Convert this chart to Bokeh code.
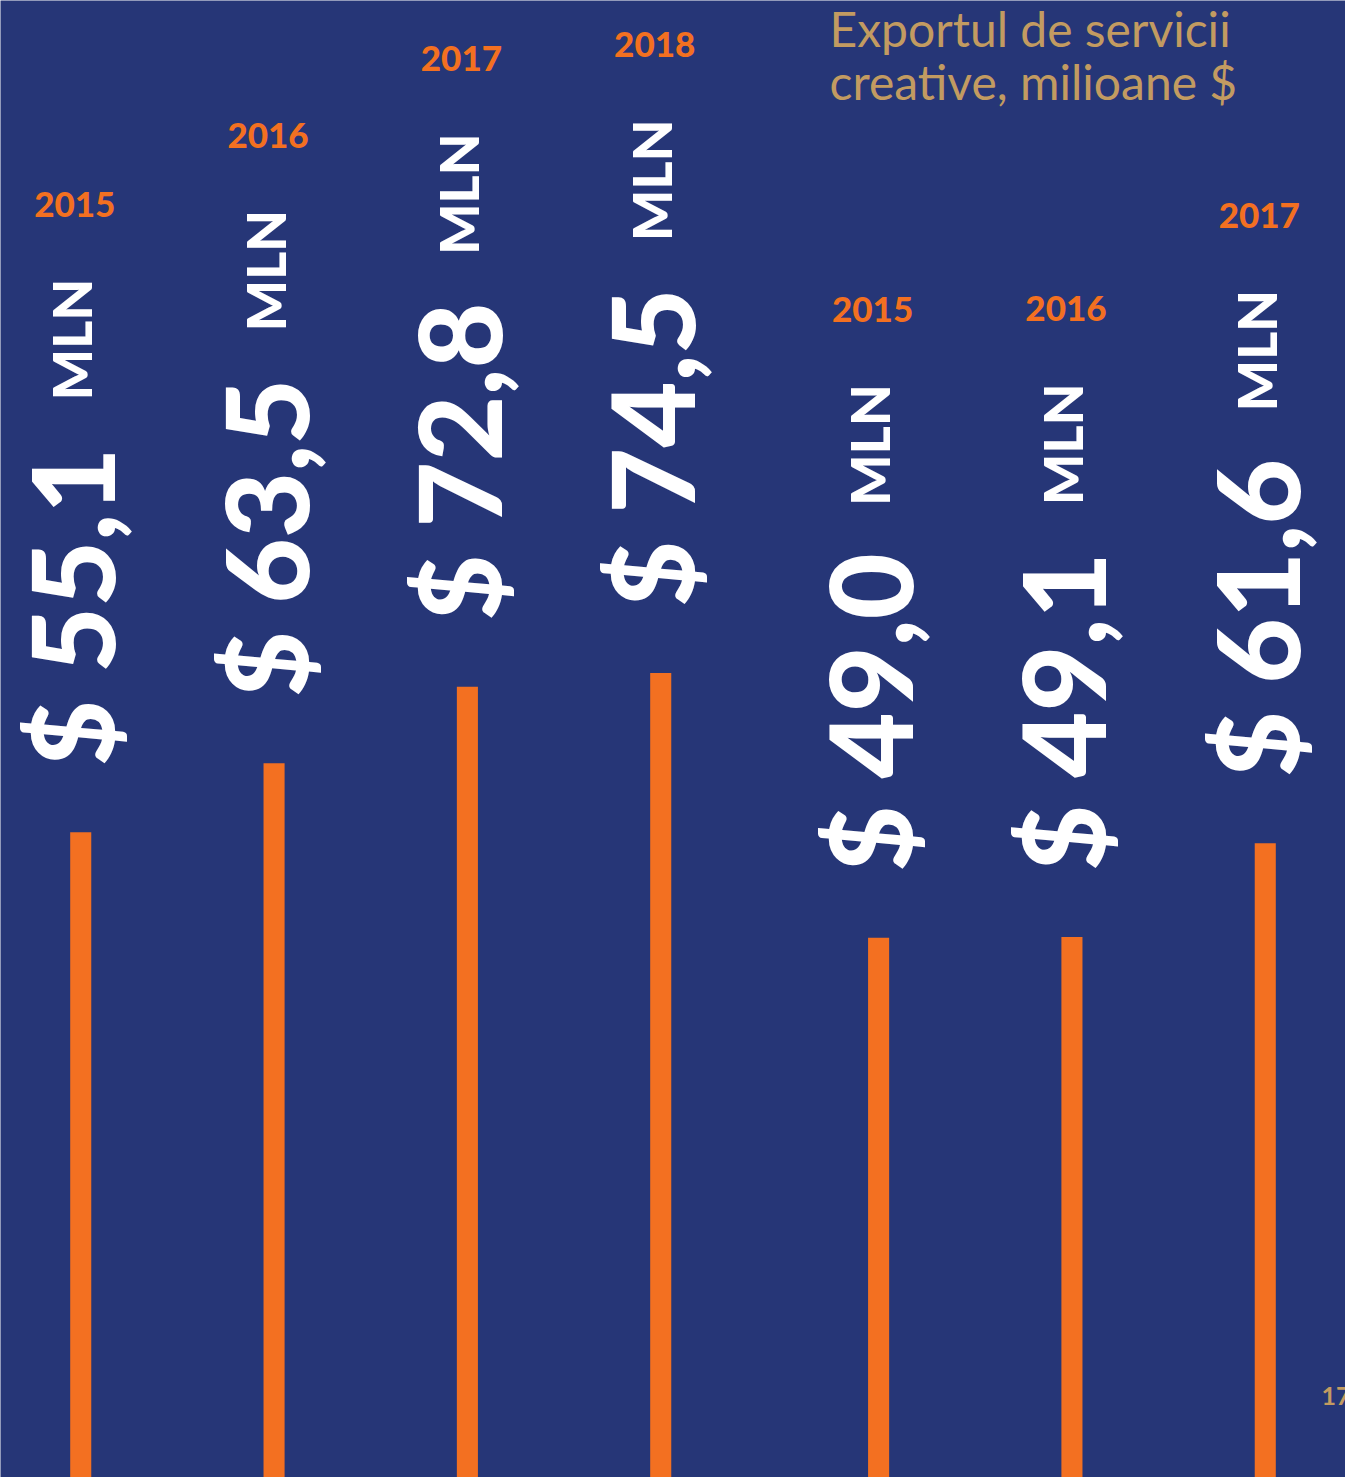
import math
from bokeh.plotting import figure
from bokeh.models import FactorRange, Range1d, ColumnDataSource, Label
from bokeh.embed import file_html
from bokeh.resources import INLINE
from bokeh.core.properties import value

# ---- data ----
group_a_years = ["2015", "2016", "2017", "2018"]
group_a_values = [55.1, 63.5, 72.8, 74.5]
group_b_years = ["2015", "2016", "2017"]
group_b_values = [49.0, 49.1, 61.6]
title_lines = ["Exportul de servicii", "creative, milioane $"]
unit_label = "MLN"
page_number = "17"

BG = "#263677"
ORANGE = "#F37021"
GOLD = "#C29B61"
WHITE = "#FFFFFF"
HEAVY = "'Lato Black', 'Lato Heavy', Lato"


def fmt(v):
    return ("$ %.1f" % v).replace(".", ",")


factors_a = [("A", y) for y in group_a_years]
factors_b = [("B", y) for y in group_b_years]

src_a = ColumnDataSource(dict(x=factors_a, v=group_a_values,
                              label=[fmt(v) for v in group_a_values],
                              unit=[unit_label] * len(group_a_values),
                              year=group_a_years))
src_b = ColumnDataSource(dict(x=factors_b, v=group_b_values,
                              label=[fmt(v) for v in group_b_values],
                              unit=[unit_label] * len(group_b_values),
                              year=group_b_years))

x_range = FactorRange(*(factors_a + factors_b), factor_padding=0.0,
                      group_padding=0.127, range_padding=-0.085,
                      range_padding_units="absolute")

p = figure(width=1345, height=1477, x_range=x_range,
           y_range=Range1d(-23.5, 156.4),
           output_backend="svg", toolbar_location=None,
           x_axis_location=None, y_axis_location=None,
           min_border=0, background_fill_color=BG, border_fill_color=BG,
           outline_line_color=None)
p.extra_y_ranges = {"b": Range1d(-23.0, 174.0)}
p.grid.visible = False

for src, rng in ((src_a, "default"), (src_b, "b")):
    p.vbar(x="x", top="v", bottom=-60, width=0.109, source=src,
           fill_color=ORANGE, line_color=None, y_range_name=rng)
    p.text(x="x", y="v", text="label", source=src, y_range_name=rng,
           angle=math.pi / 2, text_align="left", text_baseline="middle",
           x_offset=-10, y_offset=-66,
           text_font=value(HEAVY), text_font_style="normal",
           text_font_size="114px", text_color=WHITE)
    p.text(x="x", y="v", text="unit", source=src, y_range_name=rng,
           angle=math.pi / 2, text_align="left", text_baseline="middle",
           x_offset=-9, y_offset=-432,
           text_font=value(HEAVY), text_font_style="normal",
           text_font_size="54px", text_color=WHITE)
    p.text(x="x", y="v", text="year", source=src, y_range_name=rng,
           text_align="center", text_baseline="middle",
           x_offset=-6, y_offset=-628,
           text_font=value(HEAVY), text_font_style="normal",
           text_font_size="35px", text_color=ORANGE)

p.add_layout(Label(x=829, y=1449, x_units="screen", y_units="screen",
                   text=title_lines[0], text_font="Lato",
                   text_font_size="48px", text_color=GOLD,
                   text_baseline="alphabetic"))
p.add_layout(Label(x=829, y=1396, x_units="screen", y_units="screen",
                   text=title_lines[1], text_font="Lato",
                   text_font_size="48px", text_color=GOLD,
                   text_baseline="alphabetic"))
p.add_layout(Label(x=1321, y=82, x_units="screen", y_units="screen",
                   text=page_number, text_font="Lato", text_font_style="bold",
                   text_font_size="25px", text_color=GOLD,
                   text_baseline="alphabetic"))

html = file_html(p, INLINE)
html = html.replace("<body>", '<body style="background-color:%s;">' % BG, 1)
open("out.html", "w").write(html)
